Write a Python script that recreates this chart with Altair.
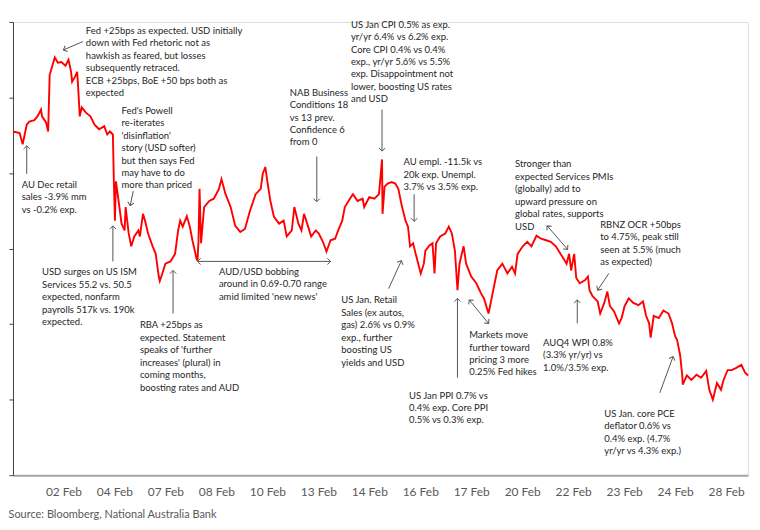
import json
import math
import altair as alt
import pandas as pd

# ---- AUD/USD intraday path (trading-time position, level) ----
pos = [1, 14, 20, 24, 28, 33, 43, 49, 56, 58, 66, 70, 73, 77, 83, 89, 96, 104, 110, 115,
       117, 123, 127, 130, 132, 136, 144, 153, 161, 170, 180, 186, 191, 197, 199, 201, 203, 209, 214, 220,
       222, 228, 233, 239, 247, 250, 256, 260, 266, 275, 281, 287, 289, 294, 300, 310, 319, 325, 329, 334,
       342, 348, 353, 361, 363, 365, 367, 370, 376, 386, 395, 405, 410, 418, 428, 437, 447, 456, 466, 477,
       487, 491, 496, 500, 506, 513, 523, 532, 538, 548, 553, 561, 567, 572, 580, 586, 595, 601, 609, 616,
       624, 633, 639, 647, 652, 662, 668, 677, 687, 690, 700, 710, 719, 725, 726, 730, 736, 744, 751, 757,
       763, 771, 776, 780, 786, 791, 801, 807, 810, 818, 824, 828, 831, 839, 849, 856, 862, 868, 873, 877,
       885, 890, 900, 910, 919, 925, 934, 942, 951, 961, 971, 980, 986, 991, 1001, 1010, 1018, 1028, 1037, 1047,
       1056, 1066, 1075, 1081, 1087, 1092, 1096, 1102, 1106, 1113, 1123, 1129, 1132, 1138, 1148, 1153, 1161, 1167, 1172, 1180,
       1190, 1195, 1201, 1209, 1218, 1228, 1237, 1243, 1249, 1252, 1258, 1268, 1277, 1287, 1294, 1300, 1304, 1310, 1314, 1315,
       1323, 1332, 1342, 1351, 1361, 1367, 1374, 1382, 1390, 1395, 1403, 1411, 1420, 1430, 1437, 1443]

aud = [0.7055, 0.7053, 0.7038, 0.7051, 0.7064, 0.7068, 0.7070, 0.7075, 0.7084, 0.7075,
       0.7067, 0.7055, 0.7130, 0.7139, 0.7153, 0.7146, 0.7147, 0.7142, 0.7150, 0.7134,
       0.7121, 0.7128, 0.7134, 0.7100, 0.7075, 0.7087, 0.7080, 0.7075, 0.7064, 0.7058,
       0.7062, 0.7051, 0.7055, 0.7051, 0.6986, 0.6937, 0.6989, 0.6959, 0.6933, 0.6924,
       0.6955, 0.6920, 0.6903, 0.6916, 0.6924, 0.6916, 0.6946, 0.6937, 0.6920, 0.6903,
       0.6893, 0.6863, 0.6857, 0.6867, 0.6880, 0.6883, 0.6893, 0.6924, 0.6937, 0.6929,
       0.6943, 0.6929, 0.6911, 0.6887, 0.6884, 0.6911, 0.6979, 0.6907, 0.6955, 0.6963,
       0.6966, 0.6979, 0.6992, 0.6972, 0.6955, 0.6930, 0.6922, 0.6926, 0.6950, 0.6972,
       0.6979, 0.6999, 0.7008, 0.6989, 0.6963, 0.6942, 0.6933, 0.6937, 0.6916, 0.6924,
       0.6955, 0.6933, 0.6924, 0.6946, 0.6929, 0.6916, 0.6924, 0.6920, 0.6909, 0.6896,
       0.6911, 0.6913, 0.6924, 0.6937, 0.6955, 0.6966, 0.6972, 0.6963, 0.6966, 0.6955,
       0.6968, 0.6966, 0.6972, 0.7018, 0.6946, 0.6982, 0.6986, 0.6988, 0.6986, 0.6979,
       0.6959, 0.6937, 0.6929, 0.6903, 0.6907, 0.6893, 0.6867, 0.6880, 0.6897, 0.6904,
       0.6907, 0.6867, 0.6907, 0.6916, 0.6920, 0.6929, 0.6920, 0.6897, 0.6845, 0.6880,
       0.6903, 0.6880, 0.6863, 0.6854, 0.6841, 0.6834, 0.6814, 0.6841, 0.6871, 0.6880,
       0.6867, 0.6876, 0.6867, 0.6893, 0.6903, 0.6909, 0.6903, 0.6917, 0.6913, 0.6911,
       0.6909, 0.6903, 0.6893, 0.6887, 0.6880, 0.6893, 0.6871, 0.6893, 0.6861, 0.6854,
       0.6858, 0.6863, 0.6845, 0.6837, 0.6830, 0.6814, 0.6828, 0.6843, 0.6824, 0.6817,
       0.6801, 0.6808, 0.6824, 0.6834, 0.6828, 0.6825, 0.6830, 0.6811, 0.6801, 0.6782,
       0.6811, 0.6808, 0.6818, 0.6814, 0.6801, 0.6784, 0.6779, 0.6758, 0.6732, 0.6720,
       0.6732, 0.6726, 0.6733, 0.6729, 0.6738, 0.6713, 0.6700, 0.6722, 0.6713, 0.6726,
       0.6739, 0.6739, 0.6742, 0.6746, 0.6736, 0.6732]

# ---- x-axis tick labels ----
tick_pos = [100, 200, 300, 400, 500, 600, 700, 800, 900, 1000, 1100, 1200, 1300, 1400]
tick_labels = ["02 Feb", "04 Feb", "07 Feb", "08 Feb", "10 Feb", "13 Feb", "14 Feb",
               "16 Feb", "17 Feb", "20 Feb", "22 Feb", "23 Feb", "24 Feb", "28 Feb"]
y_ticks = [0.66, 0.67, 0.68, 0.69, 0.70, 0.71, 0.72]

source_text = "Source: Bloomberg, National Australia Bank"

# ---- annotations ----
note_text = [
    "Fed +25bps as expected. USD initially\ndown with  Fed rhetoric not as\nhawkish as feared, but losses\nsubsequently retraced.\nECB +25bps, BoE +50 bps both as\nexpected",
    "Fed's Powell\nre-iterates\n'disinflation'\nstory (USD softer)\nbut then says Fed\nmay have to do\nmore than priced",
    "AU Dec retail\nsales -3.9% mm\nvs -0.2% exp.",
    "USD surges on US ISM\nServices 55.2 vs. 50.5\nexpected, nonfarm\npayrolls 517k vs. 190k\nexpected.",
    "RBA +25bps as\nexpected. Statement\nspeaks of 'further\nincreases' (plural) in\ncoming months,\nboosting rates and AUD",
    "AUD/USD bobbing\naround in 0.69-0.70 range\namid limited 'new news'",
    "NAB Business\nConditions 18\nvs 13 prev.\nConfidence 6\nfrom 0",
    "US Jan CPI 0.5% as exp.\nyr/yr 6.4% vs 6.2% exp.\nCore CPI 0.4% vs 0.4%\nexp., yr/yr 5.6% vs 5.5%\nexp. Disappointment not\nlower, boosting US rates\nand USD",
    "AU empl. -11.5k vs\n20k exp.  Unempl.\n3.7% vs 3.5% exp.",
    "US Jan. Retail\nSales (ex autos,\ngas) 2.6% vs 0.9%\nexp., further\nboosting US\nyields and USD",
    "Markets move\nfurther toward\npricing 3 more\n0.25% Fed hikes",
    "US Jan PPI  0.7% vs\n0.4% exp. Core PPI\n0.5% vs 0.3% exp.",
    "Stronger than\nexpected Services PMIs\n(globally) add to\nupward pressure on\nglobal rates, supports\nUSD",
    "RBNZ OCR +50bps\nto 4.75%, peak still\nseen at 5.5% (much\nas expected)",
    "AUQ4 WPI 0.8%\n(3.3% yr/yr) vs\n1.0%/3.5% exp.",
    "US Jan. core PCE\ndeflator 0.6% vs\n0.4% exp. (4.7%\nyr/yr vs 4.3% exp.)",
]
note_p = [144, 214, 18, 58, 250, 405, 544, 664, 767, 645, 896, 778, 986, 1153, 1041, 1161]
note_v = [0.7195, 0.7089, 0.6991, 0.6875, 0.6805, 0.6876, 0.7113, 0.7203,
          0.7021, 0.6838, 0.6792, 0.6712, 0.7018, 0.6938, 0.6782, 0.6688]

arrow_p1 = [138, 237, 28, 197, 315, 363, 597, 725, 788, 738, 896, 873, 1049, 1170, 1108, 1270]
arrow_v1 = [0.7174, 0.6976, 0.6999, 0.6883, 0.6814, 0.6883, 0.7022, 0.7084,
            0.6972, 0.6847, 0.6832, 0.6729, 0.6930, 0.6867, 0.6801, 0.6709]
arrow_p2 = [100, 231, 28, 197, 315, 624, 597, 725, 788, 763, 934, 873, 1089, 1148, 1108, 1296]
arrow_v2 = [0.7163, 0.6957, 0.7036, 0.6930, 0.6871, 0.6883, 0.6962, 0.7029,
            0.6936, 0.6884, 0.6801, 0.6834, 0.6899, 0.6845, 0.6832, 0.6757]
arrow_both = [False, False, False, False, False, True, False, False,
              False, False, True, False, True, False, False, False]

# ---- layout ----
W, H = 738, 455
P_MIN, P_MAX = 1, 1443
V_MIN, V_MAX = 0.66, 0.72
FONT = "Lato"
TXT = "#262626"
ARROW = "#555555"

xs = alt.Scale(domain=[P_MIN, P_MAX], nice=False, zero=False)
ys = alt.Scale(domain=[V_MIN, V_MAX], nice=False, zero=False)

line_df = pd.DataFrame({"p": pos, "v": aud})
note_df = pd.DataFrame({"p": note_p, "v": note_v, "t": note_text})
rule_df = pd.DataFrame({"p1": arrow_p1, "v1": arrow_v1, "p2": arrow_p2, "v2": arrow_v2})


def heading(pa, va, pb, vb):
    dx = (pb - pa) * W / (P_MAX - P_MIN)
    dy = -(vb - va) * H / (V_MAX - V_MIN)
    ang = math.degrees(math.atan2(dx, -dy))
    return ang % 360


heads = []
for a, b, c, d, both in zip(arrow_p1, arrow_v1, arrow_p2, arrow_v2, arrow_both):
    heads.append({"p": c, "v": d, "ang": heading(a, b, c, d)})
    if both:
        heads.append({"p": a, "v": b, "ang": heading(c, d, a, b)})
head_df = pd.DataFrame(heads)

labels_js = json.dumps(tick_labels)

x_axis = alt.Axis(values=tick_pos, labelExpr=f"{labels_js}[round(datum.value/100)-1]",
                  title=None, grid=False, ticks=False, domainColor="#a6a6a6", domainWidth=2,
                  labelColor="#595959", labelFontSize=12, labelFont=FONT, labelPadding=11,
                  labelFlush=False)
y_axis = alt.Axis(values=y_ticks, labels=False, title=None, grid=False, ticks=True, tickSize=4,
                  tickColor="#404040", domainColor="#404040", domainWidth=1)

line = alt.Chart(line_df).mark_line(color="#ff0000", strokeWidth=1.9).encode(
    x=alt.X("p:Q", scale=xs, axis=x_axis),
    y=alt.Y("v:Q", scale=ys, axis=y_axis),
)

rules = alt.Chart(rule_df).mark_rule(color=ARROW, strokeWidth=1).encode(
    x=alt.X("p1:Q", scale=xs), y=alt.Y("v1:Q", scale=ys),
    x2="p2:Q", y2="v2:Q",
)

arrowheads = alt.Chart(head_df).mark_point(
    shape="M-1,1L0,0L1,1", filled=False, color=ARROW, strokeWidth=1, size=40, opacity=1
).encode(
    x=alt.X("p:Q", scale=xs), y=alt.Y("v:Q", scale=ys),
    angle=alt.Angle("ang:Q", scale=None),
)

notes = alt.Chart(note_df).mark_text(
    align="left", baseline="top", fontSize=9.5, lineHeight=12.5, font=FONT,
    color=TXT, lineBreak="\n",
).encode(
    x=alt.X("p:Q", scale=xs), y=alt.Y("v:Q", scale=ys), text="t:N",
)

chart = alt.layer(line, rules, arrowheads, notes).properties(
    width=W, height=H,
    padding={"left": 0, "top": 10, "right": 0, "bottom": 0},
    title=alt.Title(source_text, orient="bottom", anchor="start", frame="bounds",
                    fontSize=11, font=FONT, fontWeight="normal", color="#595959", offset=12),
).configure_view(stroke=None).configure(background="white")

chart.save("out.html", embed_options={"renderer": "svg", "actions": False})
